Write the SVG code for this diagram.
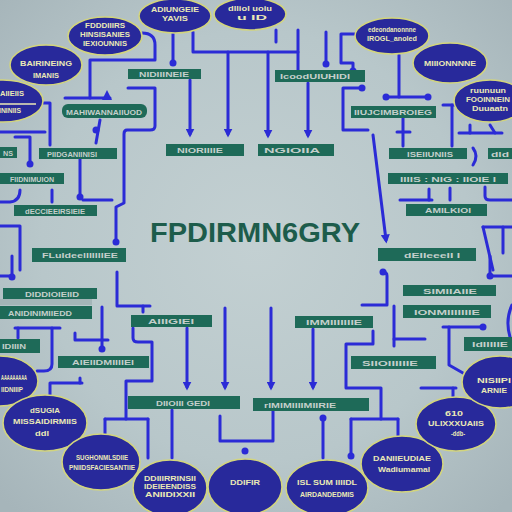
<svg xmlns="http://www.w3.org/2000/svg" width="512" height="512" viewBox="0 0 512 512">
<defs>
<radialGradient id="bg" cx="50%" cy="48%" r="70%">
<stop offset="0" stop-color="#c3d0d2"/>
<stop offset="0.6" stop-color="#b8c7ca"/>
<stop offset="1" stop-color="#a6b5ba"/>
</radialGradient>
<marker id="a" viewBox="0 0 10 10" refX="6" refY="5" markerWidth="3" markerHeight="3" orient="auto">
<path d="M0,0 L10,5 L0,10 z" fill="#2b2bd6"/>
</marker>
<style>
.box{fill:#1e6a58}
.bt{fill:#c4cfcb;font-family:"Liberation Sans",Arial,sans-serif;font-size:8px;font-weight:bold;text-anchor:middle}
.el{fill:#28299b;stroke:#d3d57c;stroke-width:1.6}
.et{fill:#ebe9b6;font-family:"Liberation Sans",Arial,sans-serif;font-size:6.5px;font-weight:bold;text-anchor:middle}
.c{fill:none;stroke:#2b2bd6;stroke-width:3;stroke-linecap:round;stroke-linejoin:round}
.ar{marker-end:url(#a)}
.d{fill:#2b2bd6}
.title{fill:#1d5c4b;font-family:"Liberation Sans",Arial,sans-serif;font-size:28px;font-weight:bold}
</style>
</defs>
<rect width="512" height="512" fill="url(#bg)"/>

<g id="connectors">
<path class="c" d="M173,33 V62"/>
<path class="c" d="M193,32 V52 H298"/>
<path class="c" d="M298,30 V70"/>
<path class="c" d="M276,30 V42"/>
<path class="c ar" d="M228,52 V134"/>
<path class="c ar" d="M268,52 V135"/>
<path class="c ar" d="M190,80 V134"/>
<path class="c" d="M326,32 V63"/>
<path class="c ar" d="M308,83 V135"/>
<path class="c" d="M142,33 Q155,33 155,45 V60 H90 V98"/>
<path class="c" d="M65,98 H110"/>
<path class="c" d="M128,88 H155 V126 Q155,130 150,130 H127 Q124,130 124,134 V203 L116,207 V242"/>
<path class="c" d="M100,120 L96,143"/>
<path class="c" d="M80,159 V197"/>
<path class="c" d="M83,200 H112"/>
<path class="c" d="M40,103 H50 V145"/>
<path class="c" d="M0,132 H45"/>
<path class="c" d="M15,137 H30 V163"/>
<path class="c" d="M52,190 V202"/>
<path class="c" d="M20,190 Q20,201 10,202 H0"/>
<path class="c" d="M0,226 H20 V270"/>
<path class="c" d="M355,34 H341 V63 H353 V70"/>
<path class="c" d="M399,55 V97"/>
<path class="c" d="M386,97 H428"/>
<path class="c" d="M362,88 H343 V130 H368"/>
<path class="c ar" d="M373,135 L386,240"/>
<path class="c" d="M403,118 V146"/>
<path class="c" d="M397,132 H410"/>
<path class="c" d="M452,105 V146"/>
<path class="c" d="M443,105 H462"/>
<path class="c" d="M459,133 H502"/>
<path class="c" d="M470,125 V133"/>
<path class="c" d="M490,125 L495,133"/>
<path class="c" d="M473,148 Q479,156 473,165"/>
<path class="c" d="M400,200 H432"/>
<path class="c" d="M429,189 V200"/>
<path class="c" d="M450,188 V200"/>
<path class="c" d="M485,187 V196 Q485,200 490,200 H512"/>
<path class="c" d="M483,227 H512"/>
<path class="c" d="M483,227 L493,270"/>
<path class="c" d="M503,227 V253"/>
<path class="c" d="M12,256 V277"/>
<path class="c" d="M0,276 H12"/>
<path class="c" d="M117,272 V306 H150"/>
<path class="c" d="M143,306 V312"/>
<path class="c" d="M15,328 H60"/>
<path class="c" d="M18,328 V338"/>
<path class="c" d="M52,328 V364 Q52,371 44,371 H37"/>
<path class="c" d="M75,333 V340 H108"/>
<path class="c" d="M102,307 V349"/>
<path class="c" d="M133,328 V338 Q133,342 138,342 H152 V381 H126 V419"/>
<path class="c" d="M105,419 H148"/>
<path class="c" d="M105,419 V438"/>
<path class="c" d="M148,419 V458"/>
<path class="c" d="M50,395 V383 H82"/>
<path class="c" d="M80,378 V383"/>
<path class="c" d="M172,410 V458"/>
<path class="c ar" d="M187,328 V387"/>
<path class="c ar" d="M225,308 V387"/>
<path class="c" d="M220,416 V441 H273 V411"/>
<path class="c ar" d="M271,308 V387"/>
<path class="c ar" d="M313,329 V387"/>
<path class="c" d="M323,418 V458"/>
<path class="c" d="M373,331 V344 H346 V388 H381 V419"/>
<path class="c" d="M351,419 H398"/>
<path class="c" d="M351,419 V456"/>
<path class="c" d="M398,419 V436"/>
<path class="c" d="M383,272 Q387,272 387,276 V305 H362"/>
<path class="c" d="M394,306 V346"/>
<path class="c" d="M394,339 H425"/>
<path class="c" d="M483,327 H443"/>
<path class="c" d="M449,327 V365 L463,373"/>
<path class="c" d="M490,256 V276 H512"/>
<path class="c" d="M512,305 Q505,320 510,337"/>
<path class="c" d="M421,388 H456"/>
<path class="c" d="M453,388 V400"/>
<circle class="d" cx="173" cy="63" r="3.5"/>
<circle class="d" cx="326" cy="64" r="3.5"/>
<circle class="d" cx="353" cy="71" r="3.5"/>
<circle class="d" cx="386" cy="97" r="3.5"/>
<circle class="d" cx="428" cy="97" r="3.5"/>
<circle class="d" cx="362" cy="88" r="3.5"/>
<circle class="d" cx="116" cy="242" r="3.5"/>
<circle class="d" cx="96" cy="130" r="3.5"/>
<circle class="d" cx="30" cy="164" r="3.5"/>
<circle class="d" cx="80" cy="197" r="3.5"/>
<circle class="d" cx="12" cy="277" r="3.5"/>
<circle class="d" cx="102" cy="349" r="3.5"/>
<circle class="d" cx="245" cy="451" r="3.5"/>
<circle class="d" cx="323" cy="418" r="3.5"/>
<circle class="d" cx="351" cy="456" r="3.5"/>
<circle class="d" cx="383" cy="272" r="3.5"/>
<circle class="d" cx="483" cy="327" r="3.5"/>
<circle class="d" cx="490" cy="276" r="3.5"/>
<path class="d" d="M102,100 L107,90 L112,100 z"/>
</g>

<g id="title"><text class="title" x="150" y="242" textLength="210" lengthAdjust="spacingAndGlyphs">FPDIRMN6GRY</text></g>

<g id="b1"><rect class="box" x="128" y="69" width="73" height="10"/><text class="bt" x="164" y="77" textLength="50" lengthAdjust="spacingAndGlyphs">NIDIIINEIE</text></g>
<g id="b2"><rect class="box" x="62" y="104" width="85" height="14" rx="6"/><text class="bt" x="104" y="115" font-size="10" textLength="76" lengthAdjust="spacingAndGlyphs">MAHIWANNAIIUOD</text></g>
<g id="b3"><rect class="box" x="39" y="148" width="78" height="11"/><text class="bt" x="72" y="156.5" textLength="50" lengthAdjust="spacingAndGlyphs">PIIDGANIINISI</text></g>
<g id="b4"><rect class="box" x="0" y="147" width="17" height="11"/><text class="bt" x="8" y="155.5" textLength="10" lengthAdjust="spacingAndGlyphs">NS</text></g>
<g id="b5"><rect class="box" x="166" y="144" width="78" height="12"/><text class="bt" x="200" y="153" textLength="46" lengthAdjust="spacingAndGlyphs">NIORIIIIE</text></g>
<g id="b6"><rect class="box" x="0" y="173" width="64" height="11"/><text class="bt" x="32" y="181.5" textLength="44" lengthAdjust="spacingAndGlyphs">FIIDNIMUION</text></g>
<g id="b7"><rect class="box" x="14" y="205" width="83" height="11"/><text class="bt" x="55" y="213.5" textLength="60" lengthAdjust="spacingAndGlyphs">dECCIEEIRSIEIE</text></g>
<g id="b8"><rect class="box" x="32" y="248" width="94" height="14"/><text class="bt" x="80" y="258" textLength="76" lengthAdjust="spacingAndGlyphs">FLuIdeelIIIIIIEE</text></g>
<g id="b9"><rect class="box" x="275" y="70" width="90" height="12"/><text class="bt" x="315" y="79" textLength="70" lengthAdjust="spacingAndGlyphs">IcoodUIUHIDI</text></g>
<g id="b10"><rect class="box" x="351" y="106" width="85" height="12"/><text class="bt" x="393" y="115" font-size="10" textLength="78" lengthAdjust="spacingAndGlyphs">IIUJCIMBROIEG</text></g>
<g id="b11"><rect class="box" x="258" y="144" width="76" height="12"/><text class="bt" x="292" y="153" textLength="56" lengthAdjust="spacingAndGlyphs">NGIOIIA</text></g>
<g id="b12"><rect class="box" x="389" y="148" width="78" height="11"/><text class="bt" x="430" y="156.5" textLength="46" lengthAdjust="spacingAndGlyphs">ISEIIUNIIS</text></g>
<g id="b13"><rect class="box" x="488" y="148" width="24" height="11"/><text class="bt" x="500" y="156.5" textLength="18" lengthAdjust="spacingAndGlyphs">dld</text></g>
<g id="b14"><rect class="box" x="388" y="173" width="120" height="11"/><text class="bt" x="448" y="181.5" textLength="96" lengthAdjust="spacingAndGlyphs">IIIIS : NIG : IIOIE I</text></g>
<g id="b15"><rect class="box" x="406" y="204" width="81" height="12"/><text class="bt" x="448" y="213" textLength="46" lengthAdjust="spacingAndGlyphs">AMILKIOI</text></g>
<g id="b16"><rect class="box" x="378" y="248" width="98" height="13"/><text class="bt" x="432" y="257.5" textLength="56" lengthAdjust="spacingAndGlyphs">dEIIeeeII I</text></g>
<g id="b17"><rect class="box" x="3" y="288" width="94" height="11"/><text class="bt" x="52" y="296.5" textLength="54" lengthAdjust="spacingAndGlyphs">DIDDIOIEIID</text></g>
<rect x="0" y="299" width="92" height="6" fill="#9fb2b3" opacity="0.8"/>
<g id="b18"><rect class="box" x="0" y="306" width="92" height="13"/><text class="bt" x="40" y="315.5" font-size="10" textLength="64" lengthAdjust="spacingAndGlyphs">ANIDINIMIIEDD</text></g>
<g id="b19"><rect class="box" x="0" y="339" width="40" height="14"/><text class="bt" x="14" y="349" textLength="24" lengthAdjust="spacingAndGlyphs">IDIIIN</text></g>
<g id="b20"><rect class="box" x="58" y="356" width="91" height="12"/><text class="bt" x="103" y="365" textLength="62" lengthAdjust="spacingAndGlyphs">AIEIIDMIIIIEI</text></g>
<g id="b21"><rect class="box" x="131" y="315" width="81" height="12"/><text class="bt" x="171" y="324" textLength="46" lengthAdjust="spacingAndGlyphs">AIIIGIEI</text></g>
<g id="b22"><rect class="box" x="128" y="396" width="112" height="13"/><text class="bt" x="183" y="405.5" textLength="54" lengthAdjust="spacingAndGlyphs">DIIOIII GEDI</text></g>
<g id="b23"><rect class="box" x="253" y="398" width="116" height="13"/><text class="bt" x="300" y="407.5" textLength="72" lengthAdjust="spacingAndGlyphs">rIMIMIIIIMIIRIE</text></g>
<g id="b24"><rect class="box" x="403" y="285" width="93" height="11"/><text class="bt" x="450" y="293.5" textLength="54" lengthAdjust="spacingAndGlyphs">SIMIIAIIE</text></g>
<g id="b25"><rect class="box" x="403" y="305" width="88" height="13"/><text class="bt" x="447" y="314.5" textLength="66" lengthAdjust="spacingAndGlyphs">IONMIIIIIIIE</text></g>
<g id="b26"><rect class="box" x="295" y="316" width="78" height="12"/><text class="bt" x="334" y="325" textLength="56" lengthAdjust="spacingAndGlyphs">IMMIIIIIIIE</text></g>
<g id="b27"><rect class="box" x="351" y="356" width="85" height="13"/><text class="bt" x="390" y="365.5" textLength="56" lengthAdjust="spacingAndGlyphs">SIIOIIIIIIE</text></g>
<g id="b28"><rect class="box" x="464" y="337" width="48" height="14"/><text class="bt" x="490" y="347" textLength="36" lengthAdjust="spacingAndGlyphs">IdIIIIIE</text></g>

<g id="e1"><ellipse class="el" cx="175" cy="16" rx="36" ry="17"/><text class="et" x="175" y="12" textLength="48" lengthAdjust="spacingAndGlyphs">ADIUNGEIE</text><text class="et" x="175" y="21" textLength="26" lengthAdjust="spacingAndGlyphs">YAVIS</text></g>
<g id="e2"><ellipse class="el" cx="250" cy="14" rx="36" ry="16"/><text class="et" x="250" y="11" textLength="44" lengthAdjust="spacingAndGlyphs">dlliol  uoiu</text><text class="et" x="252" y="20" textLength="30" lengthAdjust="spacingAndGlyphs">u ID</text></g>
<g id="e3"><ellipse class="el" cx="105" cy="36" rx="37" ry="19"/><text class="et" x="105" y="28" textLength="40" lengthAdjust="spacingAndGlyphs">FDDDIIIRS</text><text class="et" x="105" y="37" textLength="50" lengthAdjust="spacingAndGlyphs">HINSISANIES</text><text class="et" x="105" y="46" textLength="44" lengthAdjust="spacingAndGlyphs">IEXIOUNNIS</text></g>
<g id="e4"><ellipse class="el" cx="392" cy="36" rx="37" ry="18"/><text class="et" x="392" y="32" textLength="48" lengthAdjust="spacingAndGlyphs">edeondanonnne</text><text class="et" x="392" y="41" textLength="50" lengthAdjust="spacingAndGlyphs">IROGL_anoled</text></g>
<g id="e5"><ellipse class="el" cx="46" cy="65" rx="36" ry="20"/><text class="et" x="46" y="66" font-size="8" textLength="52" lengthAdjust="spacingAndGlyphs">BAIRINEING</text><text class="et" x="46" y="78" textLength="26" lengthAdjust="spacingAndGlyphs">IMANIS</text></g>
<g id="e6"><ellipse class="el" cx="450" cy="63" rx="37" ry="20"/><text class="et" x="450" y="66" font-size="8" textLength="52" lengthAdjust="spacingAndGlyphs">MIIIONNNNE</text></g>
<g id="e7"><ellipse class="el" cx="3" cy="101" rx="40" ry="21"/><text class="et" x="12" y="96" textLength="24" lengthAdjust="spacingAndGlyphs">AIIEIIS</text><path d="M0,104 H36" stroke="#ebe9b6" stroke-width="1.5"/><text class="et" x="10" y="113" textLength="22" lengthAdjust="spacingAndGlyphs">ININIIS</text></g>
<g id="e8"><ellipse class="el" cx="490" cy="101" rx="36" ry="21"/><text class="et" x="488" y="93" textLength="36" lengthAdjust="spacingAndGlyphs">ruunuun</text><text class="et" x="488" y="102" textLength="44" lengthAdjust="spacingAndGlyphs">FOOINNEIN</text><text class="et" x="490" y="111" textLength="36" lengthAdjust="spacingAndGlyphs">Duuaatn</text></g>
<g id="e9"><ellipse class="el" cx="0" cy="381" rx="38" ry="25"/><text class="et" x="14" y="380" textLength="26" lengthAdjust="spacingAndGlyphs">AAAAAAAAA</text><text class="et" x="12" y="392" textLength="22" lengthAdjust="spacingAndGlyphs">IIDNIIIP</text></g>
<g id="e10"><ellipse class="el" cx="45" cy="423" rx="42" ry="28"/><text class="et" x="45" y="413" font-size="7" textLength="30" lengthAdjust="spacingAndGlyphs">dSUGIA</text><text class="et" x="45" y="424" font-size="7" textLength="64" lengthAdjust="spacingAndGlyphs">MISSAIDIRMIIS</text><text class="et" x="42" y="436" font-size="7" textLength="14" lengthAdjust="spacingAndGlyphs">ddl</text></g>
<g id="e11"><ellipse class="el" cx="101" cy="462" rx="39" ry="28"/><text class="et" x="102" y="460" textLength="52" lengthAdjust="spacingAndGlyphs">SUGHONMLSDIIE</text><text class="et" x="102" y="470" textLength="66" lengthAdjust="spacingAndGlyphs">PNIIDSFACIESANTIIE</text></g>
<g id="e12"><ellipse class="el" cx="170" cy="488" rx="37" ry="28"/><text class="et" x="170" y="481" font-size="7" textLength="52" lengthAdjust="spacingAndGlyphs">DDIIIRRINSII</text><text class="et" x="170" y="489" font-size="7" textLength="52" lengthAdjust="spacingAndGlyphs">IDEIEENDISS</text><text class="et" x="170" y="497" font-size="7" textLength="50" lengthAdjust="spacingAndGlyphs">ANIIDIXXII</text></g>
<g id="e13"><ellipse class="el" cx="245" cy="487" rx="37" ry="28"/><text class="et" x="245" y="485" font-size="7.5" textLength="30" lengthAdjust="spacingAndGlyphs">DDIFIR</text></g>
<g id="e14"><ellipse class="el" cx="327" cy="488" rx="41" ry="28"/><text class="et" x="327" y="485" font-size="7.5" textLength="60" lengthAdjust="spacingAndGlyphs">ISL SUM IIIIDL</text><text class="et" x="327" y="497" textLength="54" lengthAdjust="spacingAndGlyphs">AIRDANDEDMIS</text></g>
<g id="e15"><ellipse class="el" cx="402" cy="464" rx="41" ry="28"/><text class="et" x="402" y="461" font-size="7" textLength="58" lengthAdjust="spacingAndGlyphs">DANIIEUDIAE</text><text class="et" x="404" y="472" font-size="7" textLength="52" lengthAdjust="spacingAndGlyphs">Wadiumamal</text></g>
<g id="e16"><ellipse class="el" cx="456" cy="424" rx="40" ry="27"/><text class="et" x="454" y="416" font-size="8.5" textLength="18" lengthAdjust="spacingAndGlyphs">610</text><text class="et" x="456" y="426" font-size="7" textLength="56" lengthAdjust="spacingAndGlyphs">ULIXXXUAIIS</text><text class="et" x="458" y="436" font-size="5" textLength="14" lengthAdjust="spacingAndGlyphs">-ddb-</text></g>
<g id="e17"><ellipse class="el" cx="500" cy="382" rx="38" ry="26"/><text class="et" x="494" y="383" font-size="8" textLength="34" lengthAdjust="spacingAndGlyphs">NISIIPI</text><text class="et" x="494" y="393" textLength="26" lengthAdjust="spacingAndGlyphs">ARNIE</text></g>
</svg>
